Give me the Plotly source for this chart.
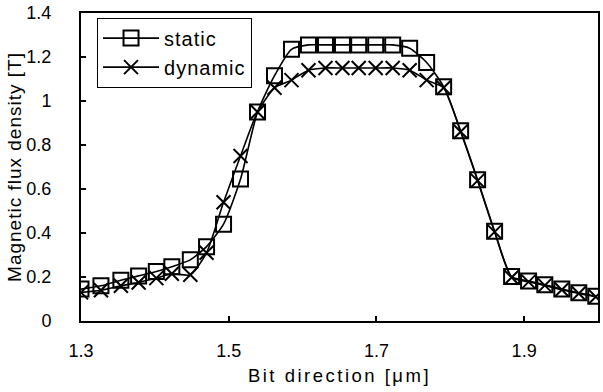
import plotly.graph_objects as go

# Position along the bit direction [um]
bit_pos = [1.300, 1.327, 1.354, 1.378, 1.402, 1.423, 1.448, 1.470, 1.493, 1.516,
           1.539, 1.562, 1.585, 1.608, 1.631, 1.654, 1.676, 1.699, 1.722, 1.745,
           1.768, 1.791, 1.814, 1.837, 1.860, 1.883, 1.906, 1.928, 1.951, 1.974,
           1.997]

# Magnetic flux density [T]
static_b = [0.145, 0.160, 0.185, 0.205, 0.225, 0.247, 0.278, 0.338, 0.440, 0.645,
            0.950, 1.115, 1.235, 1.255, 1.255, 1.255, 1.255, 1.255, 1.255, 1.240,
            1.175, 1.065, 0.865, 0.642, 0.408, 0.202, 0.182, 0.165, 0.145, 0.128,
            0.112]
dynamic_b = [0.130, 0.140, 0.160, 0.175, 0.195, 0.215, 0.210, 0.310, 0.540, 0.750,
             0.950, 1.060, 1.095, 1.140, 1.150, 1.150, 1.150, 1.150, 1.150, 1.140,
             1.095, 1.060, 0.860, 0.638, 0.405, 0.198, 0.178, 0.162, 0.142, 0.125,
             0.110]

series_names = ["static", "dynamic"]
x_title = "Bit direction [μm]"
y_title = "Magnetic flux density [T]"
x_ticks = [1.3, 1.5, 1.7, 1.9]
x_tick_text = ["1.3", "1.5", "1.7", "1.9"]
y_ticks = [0, 0.2, 0.4, 0.6, 0.8, 1.0, 1.2, 1.4]
y_tick_text = ["0", "0.2", "0.4", "0.6", "0.8", "1", "1.2", "1.4"]

FONT = "Liberation Sans, Arial, sans-serif"


def spaced(text, px):
    """Wrap text in a span with extra letter spacing."""
    return f'<span style="letter-spacing:{px}px">{text}</span>'


fig = go.Figure()
fig.add_trace(go.Scatter(
    x=bit_pos, y=static_b, name=spaced(series_names[0], 1), mode="lines+markers",
    line=dict(color="black", width=1.6, shape="spline", smoothing=0.6),
    marker=dict(symbol="square-open", size=15, color="black",
                line=dict(color="black", width=2)),
))
fig.add_trace(go.Scatter(
    x=bit_pos, y=dynamic_b, name=spaced(series_names[1], 1), mode="lines+markers",
    line=dict(color="black", width=1.6, shape="spline", smoothing=0.6),
    marker=dict(symbol="x-thin-open", size=14, color="black",
                line=dict(color="black", width=2)),
))

axis_common = dict(
    showline=True, linecolor="black", linewidth=2, mirror=True,
    ticks="inside", ticklen=5, tickwidth=2, tickcolor="black",
    showgrid=False, zeroline=False,
    tickfont=dict(family=FONT, size=18, color="black"),
)

fig.update_layout(
    width=603, height=392,
    margin=dict(l=81, r=3, t=13, b=71),
    paper_bgcolor="white", plot_bgcolor="white",
    font=dict(family=FONT, size=18, color="black"),
    showlegend=True,
    legend=dict(
        x=0.031, y=0.985, xanchor="left", yanchor="top",
        bgcolor="white", bordercolor="black", borderwidth=1,
        font=dict(family=FONT, size=20, color="black"),
        tracegroupgap=0, itemwidth=56,
    ),
    xaxis=dict(
        range=[1.3, 2.0], tickvals=x_ticks, ticktext=x_tick_text,
        ticklabelstandoff=12,
        title=dict(text=spaced(x_title, 2.5), font=dict(family=FONT, size=18.5),
                   standoff=9),
        **axis_common,
    ),
    yaxis=dict(
        range=[0, 1.4], tickvals=y_ticks, ticktext=y_tick_text,
        ticklabelstandoff=24,
        title=dict(text=spaced(y_title, 1), font=dict(family=FONT, size=19),
                   standoff=0),
        **axis_common,
    ),
)

fig.write_html("out.html")
